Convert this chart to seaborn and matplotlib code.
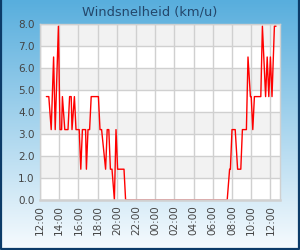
import numpy as np
import pandas as pd
import matplotlib
matplotlib.use("Agg")
import matplotlib.pyplot as plt
import matplotlib.dates as mdates
from matplotlib.lines import Line2D
import seaborn as sns

# metingen windsnelheid (km/u), dag 1 middag/avond en dag 2 ochtend
tijden_dag1 = ["12:40", "12:55", "13:10", "13:25", "13:35", "13:55", "14:05", "14:15",
               "14:20", "14:35", "14:55", "15:05", "15:15", "15:20", "15:35", "15:45",
               "16:05", "16:15", "16:25", "16:45", "16:50", "17:00", "17:10", "17:20",
               "18:05", "18:15", "18:25", "18:50", "19:00", "19:10", "19:20", "19:30",
               "19:45", "19:55", "20:05", "20:45", "20:55"]
waarden_dag1 = [4.7, 4.7, 3.2, 6.5, 3.2, 7.9, 3.2, 3.2,
                4.7, 3.2, 3.2, 4.7, 4.7, 3.2, 4.7, 3.2,
                3.2, 1.4, 3.2, 3.2, 1.4, 3.2, 3.2, 4.7,
                4.7, 3.2, 3.2, 1.4, 3.2, 3.2, 1.4, 1.4,
                0.0, 3.2, 1.4, 1.4, 0.0]

tijden_dag2 = ["07:30", "07:45", "07:50", "08:00", "08:20", "08:35", "08:55", "09:05",
               "09:30", "09:40", "09:55", "10:00", "10:10", "10:20", "11:00", "11:10",
               "11:30", "11:40", "11:50", "12:00", "12:10", "12:25", "12:35"]
waarden_dag2 = [0.0, 1.4, 1.4, 3.2, 3.2, 1.4, 1.4, 3.2,
                3.2, 6.5, 4.7, 4.7, 3.2, 4.7, 4.7, 7.9,
                4.7, 6.5, 4.7, 6.5, 4.7, 7.9, 7.9]

y_ticks = [0.0, 1.0, 2.0, 3.0, 4.0, 5.0, 6.0, 7.0, 8.0]

df = pd.DataFrame({
    "tijd": pd.to_datetime(["2024-05-01 " + t for t in tijden_dag1] +
                           ["2024-05-02 " + t for t in tijden_dag2]),
    "wind": waarden_dag1 + waarden_dag2,
})

sns.set_style("white")
plt.rcParams['font.family'] = ['DejaVu Sans']

fig = plt.figure(figsize=(3.0, 2.5), dpi=100)

# achtergrond verloop
bg = fig.add_axes([0, 0, 1, 1], zorder=-10)
top = np.array([88, 174, 221]) / 255
bot = np.array([247, 251, 254]) / 255
f = np.linspace(0, 1, 256)[:, None]
grad = top[None, :] * (1 - f) + bot[None, :] * f
bg.imshow(grad[:, None, :], aspect="auto", extent=[0, 1, 0, 1])
bg.set_axis_off()
# donkere rand links, rechts en onder
rand = Line2D([0.002, 0.002, 0.998, 0.998], [1, 0.003, 0.003, 1],
              transform=fig.transFigure, color="#0c3b68", linewidth=1.6)
fig.lines.append(rand)

ax = fig.add_axes([40 / 300, 50 / 250, 240 / 300, 176 / 250])
ax.set_facecolor("white")
for i in range(1, 8, 2):
    ax.axhspan(i, i + 1, color="#f2f2f2", zorder=0, lw=0)

sns.lineplot(data=df, x="tijd", y="wind", ax=ax, color="red", linewidth=1.0)

ax.set_xlim(pd.Timestamp("2024-05-01 12:00"), pd.Timestamp("2024-05-02 13:00"))
ax.set_ylim(0, 8)
ax.set_yticks(y_ticks)
ax.set_yticklabels([f"{v:.1f}" for v in y_ticks])
ax.xaxis.set_major_locator(mdates.HourLocator(byhour=range(0, 24, 2)))
ax.xaxis.set_major_formatter(mdates.DateFormatter("%H:%M"))
plt.setp(ax.get_xticklabels(), rotation=90)
ax.tick_params(axis="both", labelsize=7.5, labelcolor="#444444", length=0, pad=4)
ax.grid(True, color="#d0d0d0", linewidth=1.0)
ax.set_axisbelow(True)
for s in ax.spines.values():
    s.set_color("#d0d0d0")
    s.set_linewidth(1.0)
ax.spines["bottom"].set_linewidth(1.8)
ax.set_xlabel("")
ax.set_ylabel("")

fig.text(0.5, 1 - 12 / 250, "Windsnelheid (km/u)", ha="center", va="center",
         fontsize=9.4, color="#24476b")

fig.savefig("out.png", dpi=100)
